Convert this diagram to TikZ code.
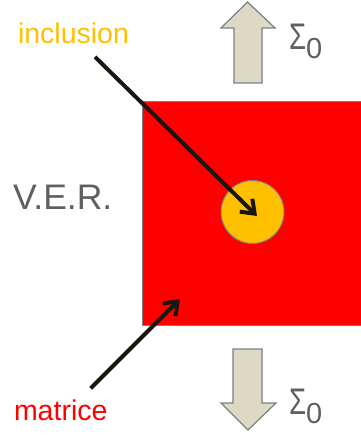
\documentclass[tikz,border=0pt]{standalone}
\usepackage{fontspec}
\setmainfont{Liberation Sans}
\usetikzlibrary{arrows.meta}
\definecolor{matred}{RGB}{255,0,0}
\definecolor{inclorange}{RGB}{255,192,0}
\definecolor{loadtan}{RGB}{221,217,196}
\definecolor{edgegray}{RGB}{127,127,127}
\definecolor{textgray}{RGB}{95,95,95}
\begin{document}
\begin{tikzpicture}[x=1pt, y=-1pt,
		every node/.style={inner sep=0pt, outer sep=0pt},
		pointer/.style={-{Straight Barb[length=12pt, width=18pt, line width=4pt]}, line width=4pt, draw={rgb,255:red,25;green,22;blue,15}},
		loadarrow/.style={fill=loadtan, draw=edgegray, line width=1.2pt, line join=miter},
		sigmalabel/.style={text=textgray, anchor=base west},
	]
	\useasboundingbox (0,0) rectangle (360,435);

	% volume element and inclusion
	\node[rectangle, fill=matred, draw=edgegray, line width=1pt, minimum width=222pt, minimum height=223pt] (ver) at (253,213.5) {};
	\node[circle, fill=inclorange, draw=edgegray, line width=1pt, minimum size=63pt] (incl) at (252.5,212) {};

	% loads
	\draw[loadarrow] (234,83) -- (234,28) -- (221,28) -- (247.5,2) -- (275,28) -- (262,28) -- (262,83) -- cycle;
	\draw[loadarrow] (233,349) -- (233,403) -- (221,403) -- (248,430) -- (276,403) -- (262,403) -- (262,349) -- cycle;
	\node[sigmalabel] (sigtop) at (289,50) {\fontsize{37}{37}\selectfont\scalebox{0.75}[1]{Σ}\fontsize{29}{29}\selectfont\raisebox{-9pt}{0}};
	\node[sigmalabel] (sigbot) at (289,414) {\fontsize{37}{37}\selectfont\scalebox{0.75}[1]{Σ}\fontsize{29}{29}\selectfont\raisebox{-9pt}{0}};

	% labels
	\node[anchor=base west, text=inclorange, font=\fontsize{28.5}{28.5}\selectfont] (lblincl) at (18,44) {inclusion};
	\node[anchor=base west, text=matred, font=\fontsize{28.5}{28.5}\selectfont] (lblmat) at (14,420) {matrice};
	\node[anchor=base west, text=textgray, font=\fontsize{35.5}{35.5}\selectfont] (lblver) at (13,209) {V.E.R.};

	\coordinate (incltip) at (257,216);
	\coordinate (mattip) at (180,299);
	\draw[pointer, shorten <=18pt] ([xshift=8.7pt]lblincl.south) -- (incltip);
	\draw[pointer, shorten <=15.5pt] ([xshift=19pt]lblmat.north) -- (mattip);
\end{tikzpicture}
\end{document}
